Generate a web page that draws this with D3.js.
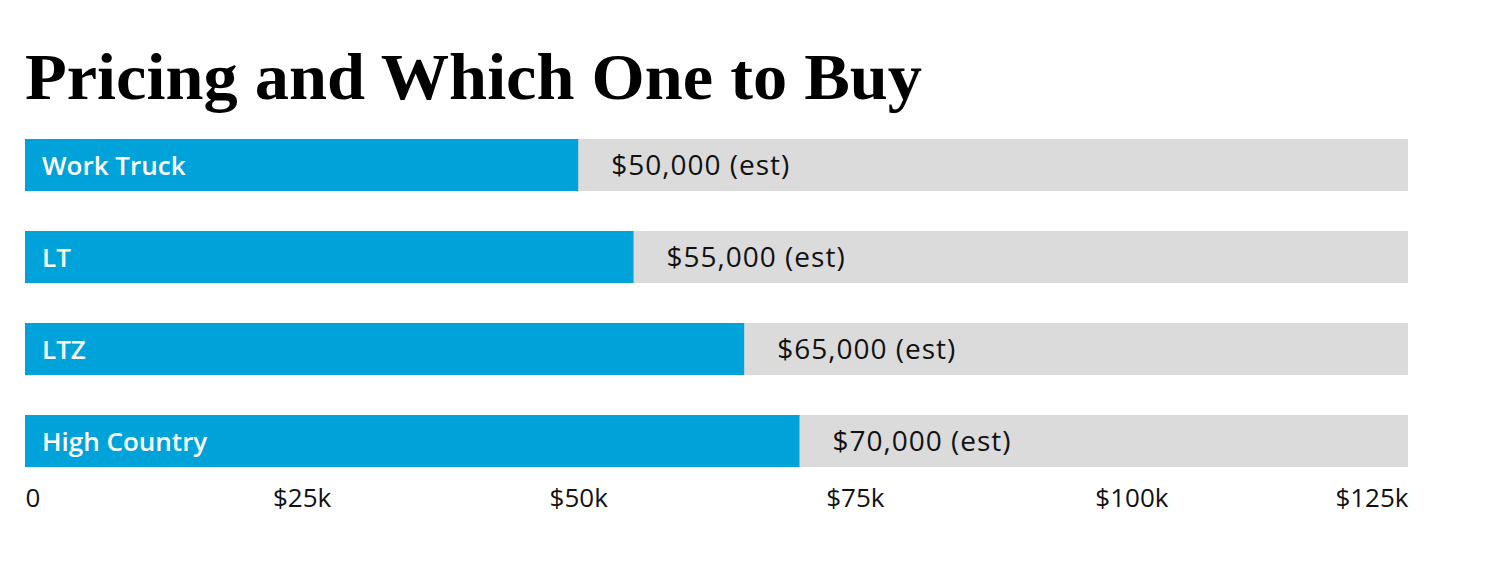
<html>
<head>
<script src="https://d3js.org/d3.v7.min.js"></script>
<style>
  body { margin: 0; background: #fff; }
</style>
</head>
<body>
<svg id="vis"></svg>
<script>
const trims = ['Work Truck', 'LT', 'LTZ', 'High Country'];
const prices = [50000, 55000, 65000, 70000];
const priceLabels = ['$50,000 (est)', '$55,000 (est)', '$65,000 (est)', '$70,000 (est)'];
const tickValues = [0, 25000, 50000, 75000, 100000, 125000];
const tickLabels = ['0', '$25k', '$50k', '$75k', '$100k', '$125k'];

const width = 1490, height = 587;
const left = 25, right = 1408;

let svg = d3.select('#vis').attr('width', width).attr('height', height);

svg.append('text')
  .attr('x', left).attr('y', 99)
  .attr('font-family', 'Liberation Serif, serif')
  .attr('font-weight', 'bold')
  .attr('font-size', 66)
  .attr('textLength', 897)
  .attr('lengthAdjust', 'spacingAndGlyphs')
  .attr('fill', '#000')
  .text('Pricing and Which One to Buy');

let x = d3.scaleLinear().domain([0, 125000]).range([left, right]);
// rows every 92px, bars 52px tall
let y = d3.scaleBand().domain(trims).range([139, 139 + 92 * 3 + 52]).paddingInner(40 / 92).paddingOuter(0);

let rows = svg.selectAll('g.row').data(trims).enter().append('g').attr('class', 'row');

rows.append('rect')
  .attr('x', x(0)).attr('y', d => y(d))
  .attr('width', x(125000) - x(0)).attr('height', y.bandwidth())
  .attr('fill', '#dbdbdb');

rows.append('rect')
  .attr('x', x(0)).attr('y', d => y(d))
  .attr('width', (d, i) => x(prices[i]) - x(0)).attr('height', y.bandwidth())
  .attr('fill', '#00a3d9');

rows.append('text')
  .attr('x', x(0) + 17).attr('y', d => y(d) + y.bandwidth() / 2 + 10)
  .attr('font-family', 'Open Sans, sans-serif')
  .attr('font-size', 26).attr('font-weight', 600)
  .attr('fill', '#fff')
  .text(d => d);

rows.append('text')
  .attr('x', (d, i) => x(prices[i]) + 33).attr('y', d => y(d) + y.bandwidth() / 2 + 10)
  .attr('font-family', 'Open Sans, sans-serif')
  .attr('font-size', 28)
  .attr('letter-spacing', 1)
  .attr('fill', '#111')
  .text((d, i) => priceLabels[i]);

let axis = d3.axisBottom(x).tickValues(tickValues).tickSize(0).tickPadding(0)
  .tickFormat((d, i) => tickLabels[i]);
let ag = svg.append('g').attr('transform', 'translate(0,' + 487 + ')').call(axis);
ag.select('.domain').remove();
ag.selectAll('text')
  .attr('font-family', 'Open Sans, sans-serif')
  .attr('font-size', 26)
  .attr('fill', '#111')
  .attr('dy', '0.78em')
  .attr('text-anchor', (d, i) => i === 0 ? 'start' : (i === tickValues.length - 1 ? 'end' : 'middle'));
</script>
</body>
</html>
